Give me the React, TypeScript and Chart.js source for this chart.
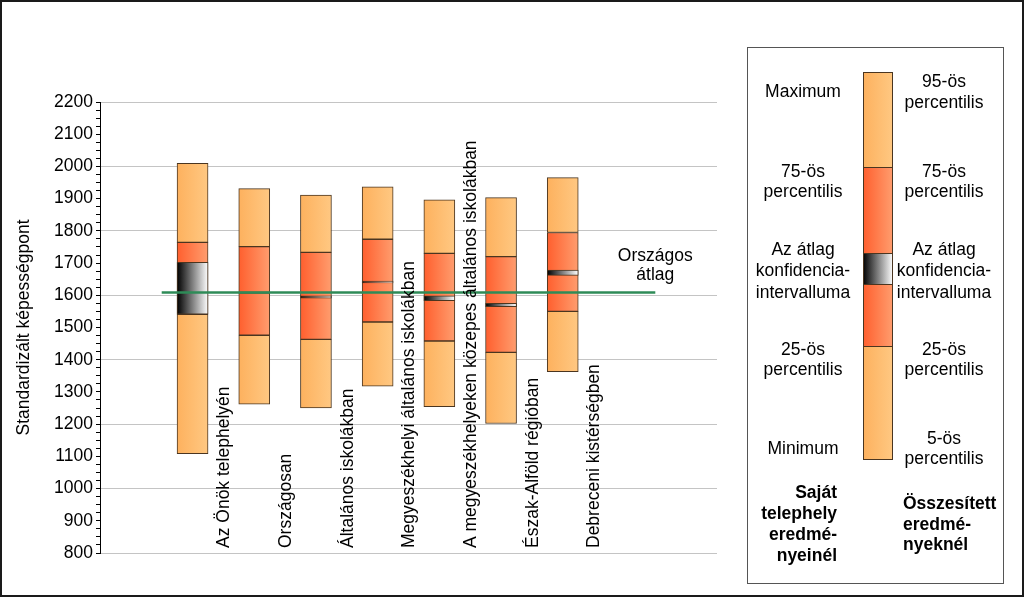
import React, { useEffect, useRef } from 'react';
import { Chart, registerables } from 'chart.js';

Chart.register(...registerables);

// ---------- data ----------
const categories = [
  '',
  'Az Önök telephelyén',
  'Országosan',
  'Általános iskolákban',
  'Megyeszékhelyi általános iskolákban',
  'A megyeszékhelyeken közepes általános iskolákban',
  'Észak-Alföld régióban',
  'Debreceni kistérségben',
  '',
  '',
];
const lowValues = [null, 1108, 1262, 1250, 1318, 1254, 1202, 1363, null, null];
const p25Values = [null, 1541, 1476, 1463, 1517, 1458, 1423, 1550, null, null];
const p75Values = [null, 1764, 1751, 1733, 1774, 1730, 1720, 1795, null, null];
const highValues = [null, 2010, 1931, 1911, 1937, 1896, 1903, 1965, null, null];
const ciLowValues = [null, 1541, 1606, 1591, 1638, 1583, 1565, 1662, null, null];
const ciHighValues = [null, 1702, 1611, 1598, 1644, 1598, 1575, 1678, null, null];
const nationalAverage = 1609;
const nationalLineStart = 0.5;
const nationalLineEnd = 8.5;
const nationalLabel = ['Országos', 'átlag'];
const yTitle = 'Standardizált képességpont';
const yMin = 800;
const yMax = 2200;
const yLabelStep = 100;
const yGridStep = 200;
const yMinorStep = 25;

const legendLeftLines = ['Maximum', '75-ös', 'percentilis', 'Az átlag', 'konfidencia-', 'intervalluma', '25-ös', 'percentilis', 'Minimum'];
const legendRightLines = ['95-ös', 'percentilis', '75-ös', 'percentilis', 'Az átlag', 'konfidencia-', 'intervalluma', '25-ös', 'percentilis', '5-ös', 'percentilis'];
const legendLeftFooter = ['Saját', 'telephely', 'eredmé-', 'nyeinél'];
const legendRightFooter = ['Összesített', 'eredmé-', 'nyeknél'];

// ---------- styles ----------
const FONT = "'Liberation Sans', Arial, sans-serif";
const FS = 17.5;
const LIGHT = ['#fdb15e', '#ffc882'];
const DARK = ['#ff5f2e', '#ff9d6e'];
const CI = ['#000000', '#ffffff'];
const BORDER = '#4a3520';
const BAR_W = 31;

const toRange = (a: (number | null)[], b: (number | null)[]) =>
  a.map((v, i) => (v == null || b[i] == null ? null : [v, b[i] as number]));

function barGradient(ctx: any, colors: string[]) {
  const chart = ctx.chart;
  const xs = chart && chart.scales && chart.scales.x;
  if (!xs || ctx.dataIndex == null) return colors[0];
  const x = xs.getPixelForValue(ctx.dataIndex);
  if (!Number.isFinite(x)) return colors[0];
  const g = chart.ctx.createLinearGradient(x - BAR_W / 2, 0, x + BAR_W / 2, 0);
  g.addColorStop(0, colors[0]);
  g.addColorStop(1, colors[1]);
  return g;
}

const overlayPlugin = {
  id: 'overlay',
  afterDraw(chart: any) {
    const { ctx, chartArea, scales } = chart;
    const xs = scales.x;
    const x2 = scales.x2;
    const ys = scales.y;
    ctx.save();
    ctx.fillStyle = '#000';
    ctx.font = `${FS}px ${FONT}`;

    // category labels (rotated, between the columns)
    const half = (xs.getPixelForValue(1) - xs.getPixelForValue(0)) / 2;
    categories.forEach((c, i) => {
      if (!c) return;
      ctx.save();
      ctx.translate(xs.getPixelForValue(i) + half + 1, chartArea.bottom - 5);
      ctx.rotate(-Math.PI / 2);
      ctx.textAlign = 'left';
      ctx.textBaseline = 'middle';
      ctx.fillText(c, 0, 0);
      ctx.restore();
    });

    // national average label
    const lx = x2.getPixelForValue(nationalLineEnd);
    const ly = ys.getPixelForValue(nationalAverage);
    ctx.textAlign = 'center';
    ctx.textBaseline = 'alphabetic';
    ctx.fillText(nationalLabel[0], lx, ly - 31);
    ctx.fillText(nationalLabel[1], lx, ly - 12);

    // legend box
    ctx.strokeStyle = '#555';
    ctx.lineWidth = 1;
    ctx.strokeRect(747.5, 47.5, 256, 536);

    // legend bar
    const bx = 863, bw = 30;
    const seg = (y0: number, y1: number, cols: string[]) => {
      const g = ctx.createLinearGradient(bx, 0, bx + bw, 0);
      g.addColorStop(0, cols[0]);
      g.addColorStop(1, cols[1]);
      ctx.fillStyle = g;
      ctx.fillRect(bx, y0, bw, y1 - y0);
      ctx.strokeStyle = BORDER;
      ctx.strokeRect(bx + 0.5, y0 + 0.5, bw - 1, y1 - y0);
    };
    seg(72, 167, LIGHT);
    seg(167, 253, DARK);
    seg(284, 346, DARK);
    seg(346, 459, LIGHT);
    seg(253, 284, CI);

    ctx.fillStyle = '#000';
    ctx.font = `${FS}px ${FONT}`;
    ctx.textAlign = 'center';
    const leftY = [91, 171, 191, 249, 270, 292, 349, 369, 448];
    legendLeftLines.forEach((t, i) => ctx.fillText(t, 803, leftY[i] + 6));
    const rightY = [81, 102, 171, 191, 249, 270, 292, 349, 369, 438, 458];
    legendRightLines.forEach((t, i) => ctx.fillText(t, 944, rightY[i] + 6));

    ctx.font = `bold ${FS}px ${FONT}`;
    ctx.textAlign = 'right';
    legendLeftFooter.forEach((t, i) => ctx.fillText(t, 837, 492 + i * 21 + 6));
    ctx.textAlign = 'left';
    legendRightFooter.forEach((t, i) => ctx.fillText(t, 903, 503 + i * 20.5 + 6));

    // outer frame
    ctx.strokeStyle = '#1a1a1a';
    ctx.lineWidth = 2;
    ctx.strokeRect(1, 1, chart.width - 2, chart.height - 2);
    ctx.restore();
  },
};

export default function App() {
  const ref = useRef<HTMLCanvasElement | null>(null);

  useEffect(() => {
    if (!ref.current) return;
    const segment = (data: any, colors: string[], order: number) => ({
      type: 'bar' as const,
      data,
      backgroundColor: (c: any) => barGradient(c, colors),
      borderColor: BORDER,
      borderWidth: 1,
      borderSkipped: false,
      barThickness: BAR_W,
      grouped: false,
      order,
    });
    const chart = new Chart(ref.current, {
      type: 'bar',
      data: {
        labels: categories,
        datasets: [
          {
            type: 'line',
            xAxisID: 'x2',
            data: [
              { x: nationalLineStart, y: nationalAverage },
              { x: nationalLineEnd, y: nationalAverage },
            ],
            borderColor: '#2e8b57',
            borderWidth: 2.5,
            pointRadius: 0,
            order: 0,
          } as any,
          segment(toRange(ciLowValues, ciHighValues), CI, 1),
          segment(toRange(lowValues, p25Values), LIGHT, 2),
          segment(toRange(p25Values, p75Values), DARK, 2),
          segment(toRange(p75Values, highValues), LIGHT, 2),
        ],
      },
      options: {
        responsive: false,
        animation: false,
        layout: { padding: { left: 0, right: 307, top: 102, bottom: 44 } },
        plugins: { legend: { display: false }, tooltip: { enabled: false } },
        scales: {
          x: { display: false, type: 'category', grid: { display: false } },
          x2: {
            display: false,
            type: 'linear',
            min: -0.5,
            max: 9.5,
            offset: false,
            grid: { offset: false },
          },
          y: {
            type: 'linear',
            min: yMin,
            max: yMax,
            afterFit: (s: any) => {
              s.width = 100;
            },
            border: { display: true, color: '#000', width: 1 },
            grid: {
              color: (c: any) =>
                c.tick && c.tick.value % yGridStep === 0 ? '#c4c4c4' : 'rgba(0,0,0,0)',
              tickColor: '#000',
              tickLength: 4,
              lineWidth: 1,
            },
            ticks: {
              stepSize: yMinorStep,
              autoSkip: false,
              maxTicksLimit: 200,
              padding: 3,
              color: '#000',
              font: { family: FONT, size: FS },
              callback: (v: any) => (Number(v) % yLabelStep === 0 ? String(v) : ''),
            },
            title: {
              display: true,
              text: yTitle,
              color: '#000',
              font: { family: FONT, size: FS },
              padding: { top: 14, bottom: 0 },
            },
          },
        },
      } as any,
      plugins: [overlayPlugin],
    });
    return () => chart.destroy();
  }, []);

  return (
    <div style={{ position: 'absolute', left: 0, top: 0, width: 1024, height: 597, background: '#fff' }}>
      <canvas ref={ref} width={1024} height={597} style={{ display: 'block' }} />
    </div>
  );
}
